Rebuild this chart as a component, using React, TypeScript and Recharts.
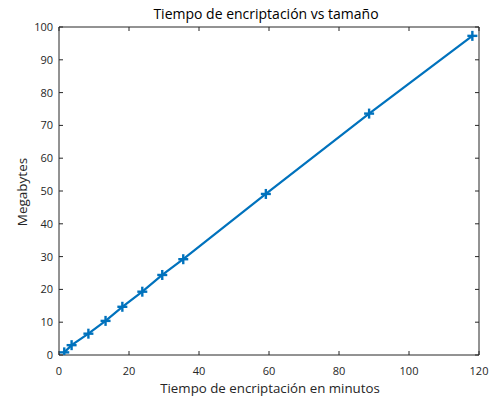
import React from 'react';
import { LineChart, Line, XAxis, YAxis, Customized } from 'recharts';

const tiempos = [1.5, 3.6, 8.4, 13.3, 18.1, 23.8, 29.5, 35.5, 59.1, 88.6, 118.1];
const megabytes = [0.8, 3.0, 6.5, 10.4, 14.7, 19.3, 24.4, 29.2, 49.1, 73.6, 97.3];
const xTicks = [0, 20, 40, 60, 80, 100, 120];
const yTicks = [0, 10, 20, 30, 40, 50, 60, 70, 80, 90, 100];

const data = tiempos.map((t, i) => ({ t, mb: megabytes[i] }));

const FONT = '"Open Sans", sans-serif';
const COLOR = '#0072BD';
const AX = '#262626';

const PlusDot = (props: any) => {
  const { cx, cy } = props;
  if (cx == null || cy == null) return null;
  const s = 5;
  return (
    <g>
      <line x1={cx - s} y1={cy} x2={cx + s} y2={cy} stroke={COLOR} strokeWidth={2.4} />
      <line x1={cx} y1={cy - s} x2={cx} y2={cy + s} stroke={COLOR} strokeWidth={2.4} />
    </g>
  );
};

const BottomTick = (props: any) => {
  const { x, y, payload } = props;
  return (
    <g>
      <line x1={x} y1={y} x2={x} y2={y - 4} stroke={AX} strokeWidth={1} />
      <text x={x} y={y + 20} textAnchor="middle" fontFamily={FONT} fontSize={11} fill={AX}>{payload.value}</text>
    </g>
  );
};
const TopTick = (props: any) => {
  const { x, y } = props;
  return <line x1={x} y1={y} x2={x} y2={y + 4} stroke={AX} strokeWidth={1} />;
};
const LeftTick = (props: any) => {
  const { x, y, payload } = props;
  return (
    <g>
      <line x1={x} y1={y} x2={x + 4} y2={y} stroke={AX} strokeWidth={1} />
      <text x={x - 6} y={y + 4} textAnchor="end" fontFamily={FONT} fontSize={11} fill={AX}>{payload.value}</text>
    </g>
  );
};
const RightTick = (props: any) => {
  const { x, y } = props;
  return <line x1={x} y1={y} x2={x - 4} y2={y} stroke={AX} strokeWidth={1} />;
};

const Labels = () => (
  <g>
    <text x={266} y={19} textAnchor="middle" fontFamily={FONT} fontSize={14} fill="#000">Tiempo de encriptación vs tamaño</text>
    <text x={270} y={393} textAnchor="middle" fontFamily={FONT} fontSize={13.3} fill={AX}>Tiempo de encriptación en minutos</text>
    <text x={27} y={192} textAnchor="middle" fontFamily={FONT} fontSize={13.5} fill={AX} transform="rotate(-90 27 192)">Megabytes</text>
  </g>
);

export default function App() {
  return (
    <div style={{ position: 'absolute', left: 0, top: 0, width: 493, height: 399, background: '#fff' }}>
      <LineChart width={493} height={399} data={data} margin={{ top: 26, right: 13, bottom: 43, left: 58 }}>
        <XAxis xAxisId="b" dataKey="t" type="number" domain={[0, 120]} ticks={xTicks} height={1} tickSize={0} tickMargin={0} tick={<BottomTick />} axisLine={{ stroke: AX }} tickLine={false} allowDataOverflow interval={0} />
        <XAxis xAxisId="t" orientation="top" dataKey="t" type="number" domain={[0, 120]} ticks={xTicks} height={1} tickSize={0} tickMargin={0} tick={<TopTick />} axisLine={{ stroke: AX }} tickLine={false} allowDataOverflow interval={0} />
        <YAxis yAxisId="l" type="number" domain={[0, 100]} ticks={yTicks} width={1} tickSize={0} tickMargin={0} tick={<LeftTick />} axisLine={{ stroke: AX }} tickLine={false} allowDataOverflow interval={0} />
        <YAxis yAxisId="r" orientation="right" type="number" domain={[0, 100]} ticks={yTicks} width={1} tickSize={0} tickMargin={0} tick={<RightTick />} axisLine={{ stroke: AX }} tickLine={false} allowDataOverflow interval={0} />
        <Line xAxisId="t" yAxisId="r" dataKey="mb" stroke="none" dot={false} activeDot={false} isAnimationActive={false} legendType="none" />
        <Line xAxisId="b" yAxisId="l" dataKey="mb" stroke={COLOR} strokeWidth={2.2} dot={<PlusDot />} activeDot={false} isAnimationActive={false} />
        <Customized component={Labels} />
      </LineChart>
    </div>
  );
}
